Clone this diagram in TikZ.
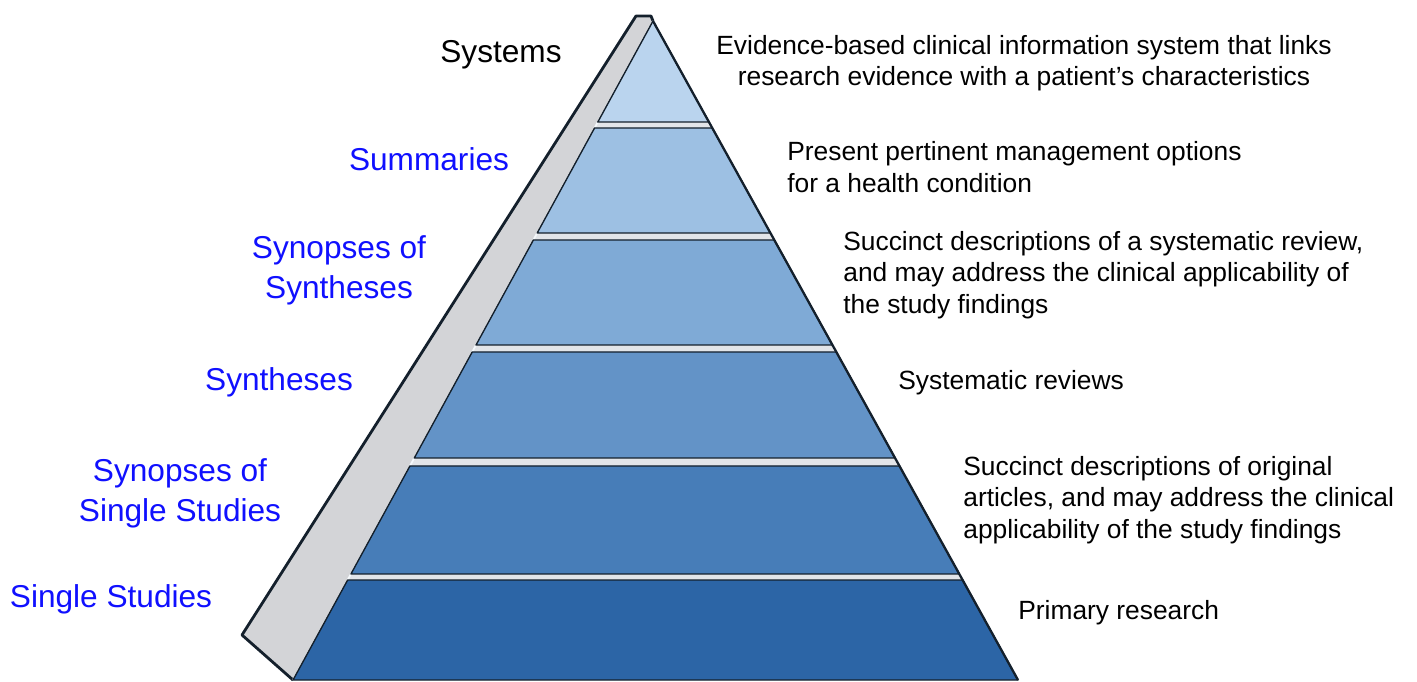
\documentclass[tikz,border=0pt]{standalone}
\usepackage{fontspec}
\setmainfont{Liberation Sans}
\usepackage{tikz}
\usetikzlibrary{calc}

\definecolor{bandA}{HTML}{BAD4EE}
\definecolor{bandB}{HTML}{9DC0E3}
\definecolor{bandC}{HTML}{7FAAD6}
\definecolor{bandD}{HTML}{6393C7}
\definecolor{bandE}{HTML}{477DB8}
\definecolor{bandF}{HTML}{2C65A6}
\definecolor{gapgray}{HTML}{E2E5E9}
\definecolor{sidegray}{HTML}{D3D4D7}
\definecolor{edgedark}{HTML}{14202C}
\definecolor{levelblue}{HTML}{1010FF}

\begin{document}
\begin{tikzpicture}[x=0.02cm, y=-0.02cm,
    level node/.style={inner sep=0pt, text=levelblue, align=center, font=\fontsize{18}{22.7}\selectfont},
    desc node/.style={inner sep=0pt, anchor=west, align=left, font=\fontsize{15}{17.9}\selectfont},
    band/.style={draw=edgedark, line width=0.8pt, line join=round},
    ]
  \useasboundingbox (0,0) rectangle (1417,682);

  \coordinate (apex) at (653,21);
  \coordinate (bl) at (293,680);
  \coordinate (br) at (1018,680);

  % side face
  \fill[sidegray] (apex) -- (651,16) -- (636,16) -- (242,635) -- (bl) -- cycle;
  \draw[edgedark, line width=1.6pt, line join=round] (apex) -- (651,16) -- (636,16) -- (242,635) -- (bl);
  \fill[gapgray] (apex) -- (bl) -- (br) -- cycle;
  \draw[white!85!bandA, line width=1pt] (apex) -- (bl);

  % layers
  \foreach \top/\bot/\col in {21/122/bandA, 128/233/bandB, 240/345/bandC, 352/458/bandD, 466/574/bandE, 580/680/bandF} {
    \draw[band, fill=\col]
      ($(apex)!{(\top-21)/659}!(bl)$) -- ($(apex)!{(\top-21)/659}!(br)$) --
      ($(apex)!{(\bot-21)/659}!(br)$) -- ($(apex)!{(\bot-21)/659}!(bl)$) -- cycle;
  }
  \draw[edgedark, line width=1.3pt] (apex) -- (br);

  \node[level node, text=black] (sys) at (501,55) {Systems};
  \node[level node] (sum) at (429,159) {Summaries};
  \node[level node] (synsyn) at (339,270) {Synopses of\\Syntheses};
  \node[level node] (syn) at (279,382) {Syntheses};
  \node[level node] (synsin) at (180,493) {Synopses of\\Single Studies};
  \node[level node] (sin) at (111,599) {Single Studies};

  \node[desc node, anchor=center, align=center] (dsys) at (1024,63)
    {Evidence-based clinical information system that links\\research evidence with a patient’s characteristics};
  \node[desc node] (dsum) at (787,167) {Present pertinent management options\\for a health condition};
  \node[desc node] (dsynsyn) at (843,275)
    {Succinct descriptions of a systematic review,\\and may address the clinical applicability of\\the study findings};
  \node[desc node] (dsyn) at (898,383) {Systematic reviews};
  \node[desc node] (dsynsin) at (963,500)
    {Succinct descriptions of original\\articles, and may address the clinical\\applicability of the study findings};
  \node[desc node] (dsin) at (1018,613) {Primary research};
\end{tikzpicture}
\end{document}
